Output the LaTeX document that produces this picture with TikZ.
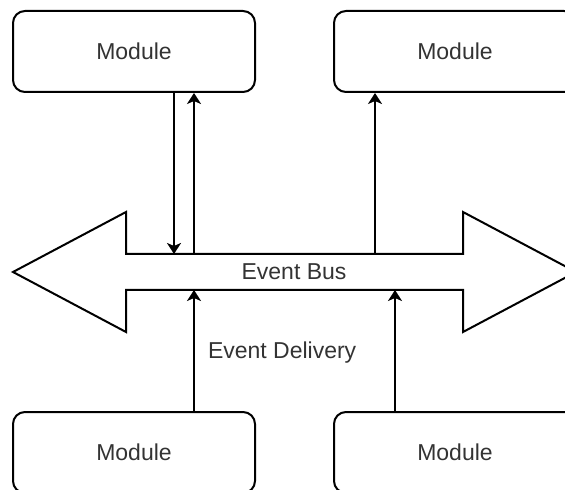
\documentclass[tikz,border=0pt]{standalone}
\usepackage{fontspec}
\setmainfont{Liberation Sans}
\usetikzlibrary{arrows.meta}
\begin{document}
\begin{tikzpicture}[x=0.5pt,y=-0.5pt,line width=1pt,
  every node/.style={font=\fontsize{11.5}{14}\selectfont,text=black!80},
  module/.style={draw,rounded corners=6pt,minimum width=121pt,minimum height=40.5pt},
  flow/.style={-{Stealth[length=5.5pt,width=7pt,inset=1.5pt]}}]
 \path[use as bounding box,clip] (0,0) rectangle (565,490);
 % modules
 \node[module] (tl) at (134,51.5) {Module};
 \node[module] (tr) at (455,51.5) {Module};
 \node[module] (bl) at (134,452.5) {Module};
 \node[module] (br) at (455,452.5) {Module};
 % the bus
 \draw (13,272) -- (126,212) -- (126,254) -- (463,254) -- (463,212) -- (576,272)
   -- (463,332) -- (463,290) -- (126,290) -- (126,332) -- cycle;
 \node (bus) at (294,272) {Event Bus};
 \coordinate (bustop) at (0,254);
 \coordinate (busbot) at (0,290);
 % connectors
 \draw[flow] ([xshift=20pt]tl.south) -- ([xshift=20pt]tl.south |- bustop);
 \draw[flow] ([xshift=30pt]tl.south |- bustop) -- ([xshift=30pt]tl.south);
 \draw[flow] ([xshift=-40pt]tr.south |- bustop) -- ([xshift=-40pt]tr.south);
 \draw[flow] ([xshift=30pt]bl.north) -- ([xshift=30pt]bl.north |- busbot)
   node[pos=0.48,right=6.5pt,inner sep=0pt] {Event Delivery};
 \draw[flow] ([xshift=-30pt]br.north) -- ([xshift=-30pt]br.north |- busbot);
\end{tikzpicture}
\end{document}
